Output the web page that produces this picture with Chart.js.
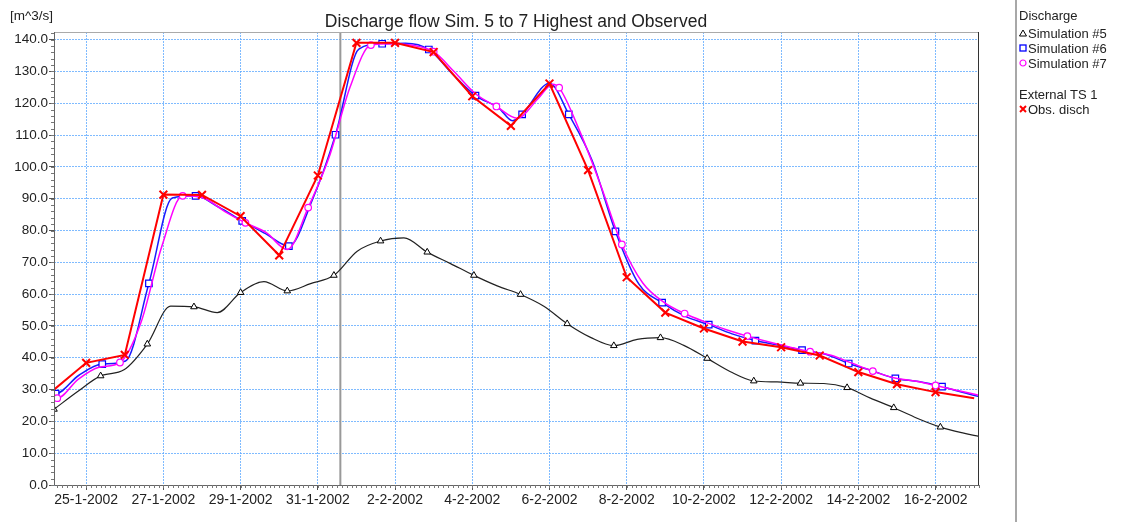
<!DOCTYPE html>
<html>
<head>
<meta charset="utf-8">
<script src="https://cdn.jsdelivr.net/npm/chart.js@4.4.1/dist/chart.umd.min.js"></script>
<style>
  html, body { margin:0; padding:0; background:#fff; }
  #wrap { position:relative; width:1121px; height:522px; font-family:"Liberation Sans", Arial, sans-serif; color:#222; }
  canvas { position:absolute; left:0; top:0; }
  .txt { position:absolute; white-space:nowrap; line-height:15px; }
  #title { left:0; width:1032px; top:11px; text-align:center; font-size:17.5px; line-height:20px; }
  #unit { left:10px; top:8px; font-size:13.5px; }
  #sep { position:absolute; left:1015px; top:0; width:2px; height:522px; background:#a8a8a8; }
  .leg { position:absolute; font-size:13px; line-height:15px; white-space:nowrap; }
  .leg svg { position:absolute; left:-9px; top:3px; }
</style>
</head>
<body>
<div id="wrap">
  <canvas id="c" width="1121" height="522"></canvas>
  <div id="title" class="txt">Discharge flow Sim. 5 to 7 Highest and Observed</div>
  <div id="unit" class="txt">[m^3/s]</div>
  <div id="sep"></div>
  <div class="leg" style="left:1019px;top:8px;">Discharge</div>
  <div class="leg" style="left:1028px;top:26px;"><svg width="8" height="8"><polygon points="4,1 7.5,7 0.5,7" fill="#fff" stroke="#000" stroke-width="1"/></svg>Simulation #5</div>
  <div class="leg" style="left:1028px;top:41px;"><svg width="8" height="8"><rect x="1" y="1" width="6" height="6" fill="#fff" stroke="#0000ff" stroke-width="1.3"/></svg>Simulation #6</div>
  <div class="leg" style="left:1028px;top:56px;"><svg width="8" height="8"><circle cx="4" cy="4" r="3" fill="#fff" stroke="#ff00ff" stroke-width="1.2"/></svg>Simulation #7</div>
  <div class="leg" style="left:1019px;top:87px;">External TS 1</div>
  <div class="leg" style="left:1028px;top:102px;"><svg width="8" height="8"><path d="M1,1 L7,7 M7,1 L1,7" stroke="#ff0000" stroke-width="2"/></svg>Obs. disch</div>
</div>
<script>
// ---- time axis (hours since 24-1-2002 00:00) ----
const xStartHour = 4;     // 24-1-2002 04:00
const xEndHour = 579;     // 17-2-2002 03:00
const tickHours  = [24, 72, 120, 168, 216, 264, 312, 360, 408, 456, 504, 552];
const tickLabels = ['25-1-2002','27-1-2002','29-1-2002','31-1-2002','2-2-2002','4-2-2002',
                    '6-2-2002','8-2-2002','10-2-2002','12-2-2002','14-2-2002','16-2-2002'];
const forecastHour = 182;

// ---- Observed discharge (daily) ----
const obsHours  = [0, 24, 48, 72, 96, 120, 144, 168, 192, 216, 240, 264, 288, 312, 336, 360, 384, 408, 432, 456, 480, 504, 528, 552, 576];
const obsValues = [28.3, 38.4, 40.9, 91.3, 91.2, 84.5, 72.2, 97.3, 139.0, 139.0, 136.1, 122.2, 112.9, 126.2, 99.0, 65.3, 54.2, 49.2, 45.1, 43.3, 40.7, 35.5, 31.7, 29.2, 27.3];

// ---- Simulation #5 ----
const sim5Hours  = [4, 18.5, 33, 47.5, 62, 76.5, 91, 105.5, 120, 134.5, 149, 163.5, 178, 192.5, 207, 221.5, 236, 250.5, 265, 279.5,
                    294, 308.5, 323, 337.5, 352, 366.5, 381, 395.5, 410, 424.5, 439, 453.5, 468, 482.5, 497, 511.5, 526, 540.5, 555, 569.5, 579];
const sim5Values = [23.8, 29.3, 34.3, 36.2, 44.3, 56.2, 56.0, 54.2, 60.5, 63.9, 61.0, 63.3, 65.9, 73.5, 76.7, 77.7, 73.2, 69.6, 65.9, 62.6,
                    59.9, 56.2, 50.7, 46.4, 43.8, 45.8, 46.3, 43.9, 39.8, 35.6, 32.7, 32.4, 32.0, 31.9, 30.6, 27.3, 24.3, 21.0, 18.2, 16.3, 15.3];

// ---- Simulation #6 ----
const sim6Hours  = [3, 5, 19.5, 34, 48.5, 63, 77.5, 92, 106.5, 121, 135.5, 150, 164.5, 179, 193.5, 208, 222.5, 237, 251.5, 266, 280.5, 289,
                    295, 312, 324, 338.5, 353, 367.5, 382, 396.5, 411, 425.5, 440, 454.5, 469, 483.5, 498, 512.5, 527, 541.5, 556, 570.5, 579];
const sim6Values = [29.0, 28.7, 34.5, 38.0, 39.0, 63.4, 90.2, 90.9, 87.3, 83.0, 79.0, 75.1, 89.5, 110.1, 137.0, 138.7, 138.9, 136.9, 129.3, 122.4, 118.5, 114.5,
                    116.5, 126.3, 116.5, 102.0, 79.7, 63.2, 57.3, 53.0, 50.4, 47.5, 45.4, 43.9, 42.4, 41.1, 38.2, 35.9, 33.5, 32.5, 30.9, 28.9, 27.8];

// ---- Simulation #7 ----
const sim7Hours  = [3, 6, 19, 32, 45, 58, 71, 84, 97, 110, 123, 136, 149, 162, 175, 188, 201, 214, 227, 240, 253, 266, 279, 292, 305, 314,
                    318, 331, 344, 357, 370, 383, 396, 409, 422, 435, 448, 461, 474, 487, 500, 513, 526, 539, 552, 565, 579];
const sim7Values = [27.6, 27.3, 33.2, 37.0, 38.5, 51.0, 75.0, 90.9, 90.2, 86.0, 82.4, 79.3, 74.0, 87.2, 103.0, 125.0, 138.3, 138.7, 138.2, 136.2, 129.8, 123.0, 119.0, 115.3, 121.5, 126.0,
                    124.9, 111.0, 94.0, 75.6, 63.5, 57.5, 53.9, 51.2, 48.8, 46.8, 45.0, 43.4, 41.9, 40.8, 38.3, 35.8, 33.7, 32.7, 31.3, 29.8, 28.2];

function pts(h, v) { return h.map((x, i) => ({ x: x, y: v[i] })); }
function markerEvery(start, step, r) {
  return ctx => { const x = ctx.raw && ctx.raw.x; return (x >= start && (x - start) % step === 0) ? r : 0; };
}

const FONT = '"Liberation Sans", Arial, sans-serif';
const GRID = 'rgba(95,170,255,0.8)';

const framePlugin = {
  id: 'frame',
  beforeDatasetsDraw(chart) {
    const { ctx, chartArea: a, scales: { x } } = chart;
    const px = x.getPixelForValue(forecastHour);
    ctx.save();
    ctx.strokeStyle = '#999';
    ctx.lineWidth = 2;
    ctx.beginPath(); ctx.moveTo(px, a.top); ctx.lineTo(px, a.bottom); ctx.stroke();
    ctx.restore();
  },
  afterDraw(chart) {
    const { ctx, chartArea: a, scales: { x, y } } = chart;
    ctx.save();
    ctx.lineWidth = 1;
    ctx.strokeStyle = '#aaa';
    ctx.beginPath(); ctx.moveTo(a.left, a.top + 0.5); ctx.lineTo(a.right, a.top + 0.5); ctx.stroke();
    ctx.strokeStyle = '#333';
    ctx.beginPath(); ctx.moveTo(a.right - 0.5, a.top); ctx.lineTo(a.right - 0.5, a.bottom); ctx.stroke();
    ctx.strokeStyle = '#666';
    ctx.beginPath(); ctx.moveTo(a.left + 0.5, a.top); ctx.lineTo(a.left + 0.5, a.bottom + 0.5); ctx.lineTo(a.right, a.bottom + 0.5); ctx.stroke();
    ctx.strokeStyle = '#777';
    ctx.beginPath();
    for (let h = Math.ceil(x.min / 3) * 3; h <= x.max; h += 3) {
      const p = Math.round(x.getPixelForValue(h)) + 0.5;
      ctx.moveTo(p, a.bottom); ctx.lineTo(p, a.bottom + 3);
    }
    for (let v = 0; v <= y.max; v += 2) {
      const p = Math.round(y.getPixelForValue(v)) + 0.5;
      ctx.moveTo(a.left - 3, p); ctx.lineTo(a.left, p);
    }
    ctx.stroke();
    ctx.restore();
  }
};

new Chart(document.getElementById('c'), {
  type: 'line',
  data: {
    datasets: [
      { label: 'Obs. disch', data: pts(obsHours, obsValues), order: 0,
        borderColor: '#ff0000', borderWidth: 2, tension: 0,
        pointStyle: 'crossRot', pointBorderColor: '#ff0000', pointBorderWidth: 2,
        pointRadius: ctx => ctx.dataIndex === obsValues.length - 1 ? 0 : 5.5 },
      { label: 'Simulation #7', data: pts(sim7Hours, sim7Values), order: 1,
        borderColor: '#ff00ff', borderWidth: 1.5, cubicInterpolationMode: 'monotone',
        pointStyle: 'circle', pointBorderColor: '#ff00ff', pointBackgroundColor: '#fff', pointBorderWidth: 1.2,
        pointRadius: markerEvery(6, 39, 3.3) },
      { label: 'Simulation #6', data: pts(sim6Hours, sim6Values), order: 2,
        borderColor: '#1a1aff', borderWidth: 1.5, cubicInterpolationMode: 'monotone',
        pointStyle: 'rect', pointBorderColor: '#0000ff', pointBackgroundColor: '#fff', pointBorderWidth: 1.2,
        pointRadius: markerEvery(5, 29, 4.6) },
      { label: 'Simulation #5', data: pts(sim5Hours, sim5Values), order: 3,
        borderColor: '#222', borderWidth: 1.2, cubicInterpolationMode: 'monotone',
        pointStyle: 'triangle', pointBorderColor: '#000', pointBackgroundColor: '#fff', pointBorderWidth: 1,
        pointRadius: markerEvery(4, 29, 3.8) }
    ]
  },
  options: {
    responsive: false,
    animation: false,
    devicePixelRatio: 1,
    layout: { padding: { top: 32, right: 142, left: 0, bottom: 0 } },
    plugins: { legend: { display: false }, title: { display: false }, tooltip: { enabled: false } },
    elements: { point: { hoverRadius: 0 } },
    scales: {
      x: {
        type: 'linear', min: xStartHour, max: xEndHour,
        afterBuildTicks: s => { s.ticks = tickHours.map(v => ({ value: v })); },
        afterFit: s => { s.height = 37; },
        ticks: { autoSkip: false, maxRotation: 0, padding: 2, color: '#222',
                 font: { family: FONT, size: 14 },
                 callback: v => tickLabels[tickHours.indexOf(v)] },
        grid: { color: GRID, lineWidth: 1, tickLength: 5, tickColor: '#555' },
        border: { display: false, dash: [2, 1] }
      },
      y: {
        min: 0, max: 142.4,
        afterFit: s => { s.width = 54; },
        ticks: { stepSize: 10, includeBounds: false, padding: 1, color: '#222',
                 font: { family: FONT, size: 13.5 },
                 callback: v => Number(v).toFixed(1) },
        grid: { color: GRID, lineWidth: 1, tickLength: 5, tickColor: '#555' },
        border: { display: false, dash: [2, 1] }
      }
    }
  },
  plugins: [framePlugin]
});
</script>
</body>
</html>
